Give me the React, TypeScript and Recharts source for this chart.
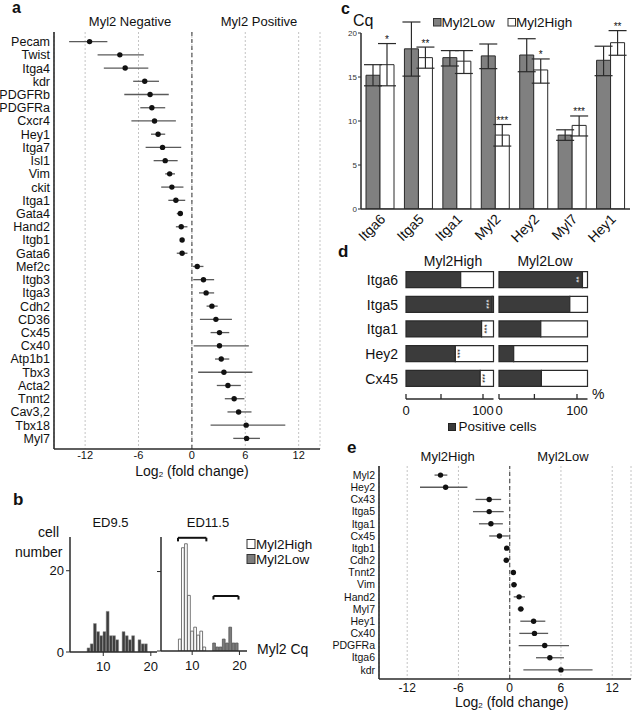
import React from "react";
import {
  ScatterChart,
  Scatter,
  BarChart,
  Bar,
  XAxis,
  YAxis,
  CartesianGrid,
  ReferenceLine,
  ErrorBar,
  LabelList,
} from "recharts";

const FONT = "'Liberation Sans', Arial, Helvetica, sans-serif";
const INK = "#111";
const LINE = "#2a2a2a";

// ---- panel a: Myl2 negative vs positive ----
const aGenes = ["Pecam", "Twist", "Itga4", "kdr", "PDGFRb", "PDGFRa", "Cxcr4", "Hey1", "Itga7", "Isl1", "Vim", "ckit", "Itga1", "Gata4", "Hand2", "Itgb1", "Gata6", "Mef2c", "Itgb3", "Itga3", "Cdh2", "CD36", "Cx45", "Cx40", "Atp1b1", "Tbx3", "Acta2", "Tnnt2", "Cav3,2", "Tbx18", "Myl7"];
const aMean = [-11.5, -8.1, -7.5, -5.3, -4.7, -4.5, -4.2, -3.8, -3.3, -3.0, -2.5, -2.25, -1.8, -1.3, -1.2, -1.1, -1.1, 0.6, 1.3, 1.6, 2.25, 2.7, 3.1, 3.1, 3.3, 3.6, 4.05, 4.75, 5.25, 6.1, 6.15];
const aLow = [-13.8, -10.6, -9.9, -6.6, -7.6, -5.8, -6.8, -4.6, -5.2, -4.3, -3.0, -3.45, -2.65, -1.7, -1.8, -1.3, -1.7, 0.1, 0.15, 0.8, 1.65, 0.9, 2.1, 0.2, 2.6, 0.7, 2.8, 3.7, 4.0, 2.1, 4.65];
const aHigh = [-9.5, -5.4, -4.9, -3.7, -2.6, -3.0, -1.8, -3.0, -1.2, -1.6, -1.9, -0.95, -0.75, -1.0, -0.5, -0.9, -0.5, 1.3, 2.5, 2.5, 2.9, 4.5, 4.2, 6.4, 4.2, 6.8, 5.5, 5.9, 6.7, 10.5, 7.65];

// ---- panel e: Myl2High vs Myl2Low ----
const eGenes = ["Myl2", "Hey2", "Cx43", "Itga5", "Itga1", "Cx45", "Itgb1", "Cdh2", "Tnnt2", "Vim", "Hand2", "Myl7", "Hey1", "Cx40", "PDGFRa", "Itga6", "kdr"];
const eMean = [-8.1, -7.5, -2.4, -2.4, -2.2, -1.2, -0.35, -0.4, 0.43, 0.5, 1.1, 1.3, 2.8, 2.9, 4.1, 4.7, 6.0];
const eLow = [-8.8, -10.5, -4.0, -4.3, -3.6, -2.4, -0.65, -0.7, 0.15, 0.2, 0.47, 0.93, 1.24, 1.13, 1.05, 3.08, 1.6];
const eHigh = [-7.3, -4.95, -1.0, -0.7, -0.8, -0.1, 0.0, -0.05, 0.7, 0.85, 1.79, 1.67, 4.17, 4.5, 6.94, 6.35, 9.7];

const foldTicks = [-12, -6, 0, 6, 12];

// ---- panel c: Cq per gene ----
const cGenes = ["Itga6", "Itga5", "Itga1", "Myl2", "Hey2", "Myl7", "Hey1"];
const cLow = [15.2, 18.2, 17.2, 17.4, 17.5, 8.4, 16.9];
const cLowMin = [14.0, 15.1, 16.25, 15.95, 15.6, 7.8, 15.15];
const cLowMax = [16.4, 21.25, 18.0, 18.75, 19.35, 9.0, 18.5];
const cHigh = [16.4, 17.2, 16.8, 8.4, 15.8, 9.5, 18.9];
const cHighMin = [14.0, 16.0, 15.4, 7.15, 14.3, 8.3, 17.47];
const cHighMax = [18.8, 18.4, 18.0, 9.6, 17.05, 10.57, 20.27];
const cStars = ["*", "**", "", "***", "*", "***", "**"];

// ---- panel d: % positive cells ----
const dGenes = ["Itga6", "Itga5", "Itga1", "Hey2", "Cx45"];
const dHighPos = [62.5, 98.5, 86.4, 56.4, 84.8];
const dLowPos = [94.3, 80, 47.2, 16.6, 47.9];
const dHighStars = ["", "***", "***", "***", "***"];
const dLowStars = ["**", "", "", "", ""];

// ---- panel b: histograms of Myl2 Cq ----
const ed95Cq = [6.93, 7.6, 8.27, 8.94, 9.61, 10.28, 10.95, 11.62, 12.29, 12.96, 13.63, 14.3, 14.97, 15.64, 16.31, 16.98, 17.65, 18.32, 18.99];
const ed95N = [1, 2, 7, 5, 4, 5, 10, 4, 4, 3, 0, 5, 4, 3, 4, 0, 3, 2, 2];
const ed115HighCq = [7.41, 8.06, 8.71, 9.35, 10.0, 10.65, 11.3, 11.94, 12.59];
const ed115HighN = [3, 26, 27, 14, 5, 6, 4, 5, 1];
const ed115LowCq = [14.66, 15.35, 16.03, 16.71, 17.4, 18.08, 18.77, 19.45];
const ed115LowN = [2, 1, 1, 3, 2, 6, 2, 2];

const getBox = (p: any) => {
  const vb = p.viewBox || {};
  return {
    x: p.x ?? vb.x,
    y: p.y ?? vb.y,
    w: p.width ?? vb.width,
    h: p.height ?? vb.height,
  };
};

const Dot = (p: any) => <circle cx={p.cx} cy={p.cy} r={2.7} fill={INK} />;

function Forest(props: any) {
  const { genes, mean, low, high, domain, left, top, width, height, margin, yWidth, xHeight, pad, labelSize, tickFont, tickGap } = props;
  const data = genes.map((g: string, i: number) => ({
    gene: g,
    mean: mean[i],
    err: [mean[i] - low[i], high[i] - mean[i]],
  }));
  const box = { stroke: LINE, strokeWidth: 1.6 };
  return (
    <div style={{ position: "absolute", left, top }}>
      <ScatterChart width={width} height={height} margin={margin}>
        <CartesianGrid horizontal={false} stroke="#c4c4c4" strokeDasharray="2 2" />
        <XAxis
          type="number"
          dataKey="mean"
          domain={domain}
          ticks={foldTicks}
          allowDataOverflow
          height={xHeight}
          tickLine={false}
          tickSize={0}
          tickMargin={tickGap}
          axisLine={box}
          tick={{ fontSize: tickFont, fill: INK }}
        />
        <XAxis xAxisId="top" orientation="top" type="number" domain={domain} height={0} tick={false} tickLine={false} axisLine={box} />
        <YAxis
          type="category"
          dataKey="gene"
          reversed
          width={yWidth}
          padding={pad}
          interval={0}
          tickLine={false}
          tickSize={0}
          tickMargin={4}
          axisLine={box}
          tick={{ fontSize: labelSize, fill: INK }}
        />
        <YAxis yAxisId="right" orientation="right" domain={[0, 1]} width={0} tick={false} tickLine={false} axisLine={box} />
        <ReferenceLine x={0} stroke="#555" strokeDasharray="4 3" strokeWidth={1.2} />
        <Scatter data={data} shape={Dot} isAnimationActive={false}>
          <ErrorBar dataKey="err" direction="x" width={0} stroke="#5a5a5a" strokeWidth={1.3} />
        </Scatter>
      </ScatterChart>
    </div>
  );
}

const cStarLabel = (p: any) => {
  const i = p.index;
  const s = cStars[i];
  if (!s) return null;
  const b = getBox(p);
  const ppu = b.h / cHigh[i];
  const topY = b.y - (cHighMax[i] - cHigh[i]) * ppu;
  return (
    <text x={b.x + b.w / 2} y={topY - 0.5} textAnchor="middle" fontSize={10} fill={INK}>
      {s}
    </text>
  );
};

function PanelC() {
  const data = cGenes.map((g, i) => ({
    gene: g,
    low: cLow[i],
    high: cHigh[i],
    lowErr: [cLow[i] - cLowMin[i], cLowMax[i] - cLow[i]],
    highErr: [cHigh[i] - cHighMin[i], cHighMax[i] - cHigh[i]],
  }));
  const ax = { stroke: LINE, strokeWidth: 1.5 };
  return (
    <div style={{ position: "absolute", left: 320, top: 0 }}>
      <BarChart width={322} height={260} data={data} margin={{ top: 33, right: 12, left: 0, bottom: 0 }} barGap={0}>
        <XAxis
          dataKey="gene"
          height={51}
          interval={0}
          angle={-45}
          textAnchor="end"
          tickLine={false}
          tickSize={0}
          tickMargin={0}
          axisLine={ax}
          tick={{ fontSize: 14, fill: INK, dx: -1, dy: 4 }}
        />
        <YAxis
          width={41}
          domain={[0, 20]}
          allowDataOverflow
          ticks={[0, 5, 10, 15, 20]}
          tickSize={3}
          tickMargin={1}
          axisLine={ax}
          tickLine={{ stroke: LINE }}
          tick={{ fontSize: 8, fill: "#333" }}
        />
        <Bar dataKey="low" fill="#808080" stroke={LINE} strokeWidth={1} barSize={14} isAnimationActive={false}>
          <ErrorBar dataKey="lowErr" width={9} stroke={LINE} strokeWidth={1.2} />
        </Bar>
        <Bar dataKey="high" fill="#fff" stroke={LINE} strokeWidth={1} barSize={14} isAnimationActive={false}>
          <ErrorBar dataKey="highErr" width={9} stroke={LINE} strokeWidth={1.2} />
          <LabelList dataKey="high" content={cStarLabel} />
        </Bar>
      </BarChart>
    </div>
  );
}

const DTick = (p: any) => {
  const v = p.payload?.value;
  return (
    <g>
      <line x1={p.x} y1={p.y} x2={p.x} y2={p.y - 5} stroke={LINE} strokeWidth={1.3} />
      {(v === 0 || v === 100) && (
        <text x={p.x} y={p.y + 16} textAnchor="middle" fontSize={13} fill={INK}>
          {v}
        </text>
      )}
    </g>
  );
};

const dStarLabel = (stars: string[], pos: number[]) => (p: any) => {
  const i = p.index;
  const s = stars[i];
  if (!s) return null;
  const b = getBox(p);
  const inside = pos[i] > 90;
  const cx = inside ? b.x + b.w - 6 : b.x + b.w + 2.5;
  const cy = b.y + b.h / 2;
  return (
    <text x={cx} y={cy} transform={`rotate(90 ${cx} ${cy})`} textAnchor="middle" dominantBaseline="central" fontSize={8} fill={inside ? "#fff" : INK}>
      {s}
    </text>
  );
};

function PanelD(props: any) {
  const { left, width, yWidth, marginLeft, pos, stars, showLabels } = props;
  const data = dGenes.map((g, i) => ({ gene: g, pos: pos[i], neg: 100 - pos[i] }));
  return (
    <div style={{ position: "absolute", left, top: 245 }}>
      <BarChart layout="vertical" width={width} height={179} data={data} margin={{ top: 22.6, right: 1.5, left: marginLeft, bottom: 0 }}>
        <XAxis
          type="number"
          domain={[0, 100]}
          ticks={[0, 20, 40, 60, 80, 100]}
          height={25}
          tickLine={false}
          tickSize={0}
          tickMargin={0}
          axisLine={{ stroke: LINE, strokeWidth: 1.5 }}
          tick={DTick}
        />
        <YAxis
          type="category"
          dataKey="gene"
          hide={!showLabels}
          width={yWidth}
          padding={{ top: 0, bottom: 8 }}
          tickLine={false}
          axisLine={false}
          tickSize={0}
          tickMargin={8}
          tick={{ fontSize: 14, fill: INK }}
        />
        <Bar dataKey="pos" stackId="s" fill="#3b3b3b" stroke={LINE} strokeWidth={1.2} barSize={16} isAnimationActive={false}>
          <LabelList dataKey="pos" content={dStarLabel(stars, pos)} />
        </Bar>
        <Bar dataKey="neg" stackId="s" fill="#fff" stroke={LINE} strokeWidth={1.2} barSize={16} isAnimationActive={false} />
      </BarChart>
    </div>
  );
}

function PanelB() {
  const left = ed95Cq.map((c, i) => ({ cq: c, n: ed95N[i] }));
  const right = [
    ...ed115HighCq.map((c, i) => ({ cq: c, high: ed115HighN[i] })),
    ...ed115LowCq.map((c, i) => ({ cq: c, low: ed115LowN[i] })),
  ];
  const ax = { stroke: LINE, strokeWidth: 1.5 };
  const br = { stroke: INK, strokeWidth: 2, ifOverflow: "visible" as const };
  return (
    <>
      <div style={{ position: "absolute", left: 20, top: 530 }}>
        <BarChart width={139} height={147} data={left} margin={{ top: 7, right: 2, left: 0, bottom: 0 }}>
          <XAxis type="number" dataKey="cq" domain={[3, 21.3]} allowDataOverflow ticks={[10, 20]} height={25} tickSize={4} tickMargin={6} axisLine={ax} tickLine={{ stroke: LINE }} tick={{ fontSize: 13, fill: INK }} />
          <YAxis domain={[0, 28.3]} allowDataOverflow ticks={[0, 20]} width={50} tickSize={4} tickMargin={2} axisLine={ax} tickLine={{ stroke: LINE }} tick={{ fontSize: 13, fill: INK }} />
          <Bar dataKey="n" fill="#3d3d3d" stroke="#8a8a8a" strokeWidth={0.5} barSize={3.2} isAnimationActive={false} />
        </BarChart>
      </div>
      <div style={{ position: "absolute", left: 155, top: 530 }}>
        <BarChart width={93} height={146} data={right} margin={{ top: 7, right: 1, left: 0, bottom: 0 }}>
          <XAxis type="number" dataKey="cq" domain={[3.4, 21.6]} allowDataOverflow ticks={[10, 20]} height={25} tickSize={4} tickMargin={6} axisLine={ax} tickLine={{ stroke: LINE }} tick={{ fontSize: 13, fill: INK }} />
          <YAxis domain={[0, 28.7]} allowDataOverflow ticks={[0, 20]} width={6} tickSize={4} tickMargin={0} axisLine={ax} tickLine={{ stroke: LINE }} tickFormatter={() => ""} />
          <Bar dataKey="high" stackId="s" fill="#fff" stroke="#555" strokeWidth={0.8} barSize={3.1} isAnimationActive={false} />
          <Bar dataKey="low" stackId="s" fill="#7d7d7d" stroke="#555" strokeWidth={0.8} barSize={3.1} isAnimationActive={false} />
          <ReferenceLine segment={[{ x: 7.0, y: 28.5 }, { x: 13.0, y: 28.5 }]} {...br} />
          <ReferenceLine segment={[{ x: 7.0, y: 28.5 }, { x: 7.0, y: 27.6 }]} {...br} />
          <ReferenceLine segment={[{ x: 13.0, y: 28.5 }, { x: 13.0, y: 27.6 }]} {...br} />
          <ReferenceLine segment={[{ x: 14.5, y: 13.85 }, { x: 19.8, y: 13.85 }]} {...br} />
          <ReferenceLine segment={[{ x: 14.5, y: 13.85 }, { x: 14.5, y: 12.95 }]} {...br} />
          <ReferenceLine segment={[{ x: 19.8, y: 13.85 }, { x: 19.8, y: 12.95 }]} {...br} />
        </BarChart>
      </div>
    </>
  );
}

function LogLabel({ x, y }: { x: number; y: number }) {
  return (
    <text x={x} y={y} textAnchor="middle" fontSize={14} fill={INK}>
      <tspan>Log</tspan>
      <tspan fontSize={8} dy={1}>2</tspan>
      <tspan dy={-1}> (fold change)</tspan>
    </text>
  );
}

function Overlay() {
  const T = (x: number, y: number, s: number, str: string, anchor = "start", bold = false) => (
    <text x={x} y={y} fontSize={s} textAnchor={anchor as any} fontWeight={bold ? "bold" : "normal"} fill={INK}>
      {str}
    </text>
  );
  return (
    <svg width={642} height={712} style={{ position: "absolute", left: 0, top: 0, pointerEvents: "none" }}>
      {/* a */}
      {T(12, 13, 16, "a", "start", true)}
      {T(130, 26, 13, "Myl2 Negative", "middle")}
      {T(259, 26, 13, "Myl2 Positive", "middle")}
      <LogLabel x={192} y={476} />
      {/* b */}
      {T(13, 505, 17, "b", "start", true)}
      {T(110.5, 527, 13, "ED9.5", "middle")}
      {T(208, 527, 13, "ED11.5", "middle")}
      {T(38, 537, 14, "cell")}
      {T(15, 557, 14, "number")}
      <rect x={247} y={539.5} width={8} height={9} fill="#fff" stroke="#333" />
      {T(256, 549, 13.5, "Myl2High")}
      <rect x={247} y={554.5} width={8} height={9} fill="#7d7d7d" stroke="#333" />
      {T(256, 564, 13.5, "Myl2Low")}
      {T(257, 654, 14, "Myl2 Cq")}
      {/* c */}
      {T(341, 13.5, 16, "c", "start", true)}
      {T(353, 25.5, 16, "Cq")}
      <rect x={433.5} y={18.5} width={7.5} height={7.5} fill="#808080" stroke="#333" />
      {T(441.5, 27, 13.5, "Myl2Low")}
      <rect x={508} y={18.5} width={7.5} height={7.5} fill="#fff" stroke="#333" />
      {T(516, 27, 13.5, "Myl2High")}
      {/* d */}
      {T(338, 257, 17, "d", "start", true)}
      {T(453, 266, 14, "Myl2High", "middle")}
      {T(545, 266, 14, "Myl2Low", "middle")}
      {T(592, 399, 14, "%")}
      <rect x={448.5} y={423.5} width={7} height={7} fill="#3b3b3b" stroke="#222" />
      {T(458.5, 431, 13.5, "Positive cells")}
      {/* e */}
      {T(347, 453, 17, "e", "start", true)}
      {T(447.7, 461, 13, "Myl2High", "middle")}
      {T(563, 461, 13, "Myl2Low", "middle")}
      <LogLabel x={511.7} y={707} />
    </svg>
  );
}

export default function App() {
  return (
    <div style={{ position: "absolute", left: 0, top: 0, width: 642, height: 712, background: "#fff", fontFamily: FONT, overflow: "hidden" }}>
      <Forest
        genes={aGenes}
        mean={aMean}
        low={aLow}
        high={aHigh}
        domain={[-15.5, 14.4]}
        left={0}
        top={0}
        width={330}
        height={480}
        margin={{ top: 32, right: 10, left: 0, bottom: 0 }}
        yWidth={54}
        xHeight={31}
        pad={{ top: 3, bottom: 4 }}
        labelSize={12.5}
        tickFont={11}
        tickGap={2}
      />
      <PanelB />
      <PanelC />
      <PanelD left={320} width={175} yWidth={86} marginLeft={0} pos={dHighPos} stars={dHighStars} showLabels />
      <PanelD left={495} width={94} yWidth={0} marginLeft={4} pos={dLowPos} stars={dLowStars} showLabels={false} />
      <Forest
        genes={eGenes}
        mean={eMean}
        low={eLow}
        high={eHigh}
        domain={[-15.3, 14.2]}
        left={320}
        top={430}
        width={322}
        height={282}
        margin={{ top: 36, right: 11, left: 0, bottom: 0 }}
        yWidth={59}
        xHeight={33}
        pad={{ top: 3, bottom: 3 }}
        labelSize={10.5}
        tickFont={12}
        tickGap={4}
      />
      <Overlay />
    </div>
  );
}
